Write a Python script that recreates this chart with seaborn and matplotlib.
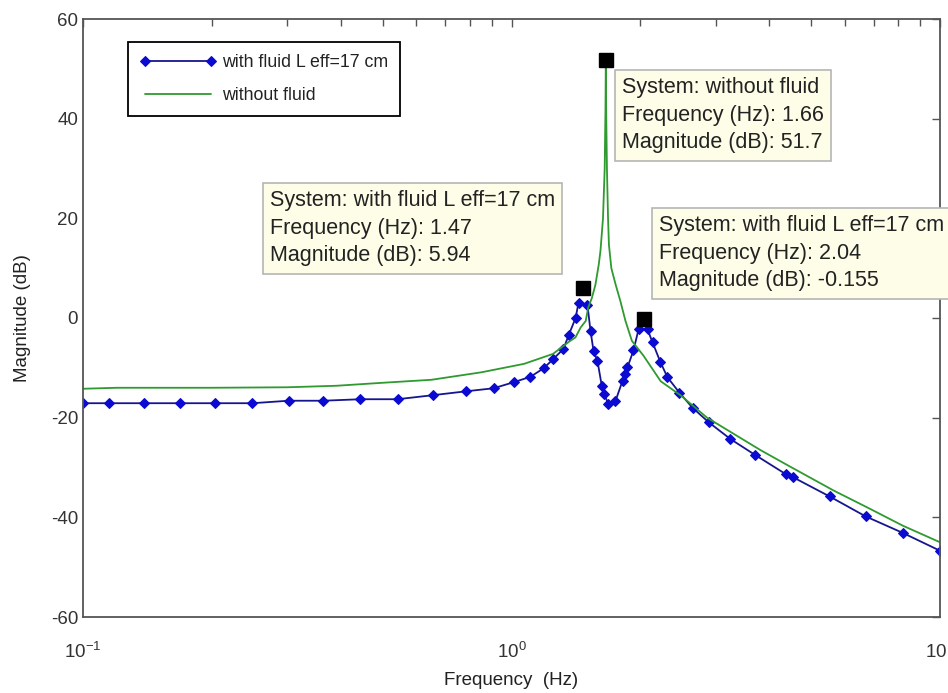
import numpy as np
import pandas as pd
import matplotlib
matplotlib.use("Agg")
import matplotlib.pyplot as plt
import seaborn as sns

# ---- data ----
blue_freq = [0.1, 0.1153, 0.1391, 0.1688, 0.2038, 0.2486, 0.3018, 0.3641, 0.4442, 0.5420,
             0.6541, 0.7852, 0.9079, 1.011, 1.107, 1.188, 1.253, 1.322, 1.359, 1.411,
             1.434, 1.504, 1.529, 1.554, 1.587, 1.625, 1.645, 1.684, 1.748, 1.816,
             1.845, 1.865, 1.926, 1.979, 2.077, 2.134, 2.227, 2.312, 2.466, 2.645,
             2.883, 3.244, 3.691, 4.360, 4.551, 5.523, 6.702, 8.176, 10.0]
blue_db = [-17.1, -17.1, -17.1, -17.1, -17.1, -17.1, -16.6, -16.6, -16.3, -16.3,
           -15.5, -14.7, -14.1, -12.9, -11.8, -10.1, -8.2, -6.2, -3.5, 0.0,
           3.1, 2.6, -2.6, -6.6, -8.6, -13.7, -15.3, -17.3, -16.7, -12.6,
           -11.2, -9.9, -6.5, -2.3, -2.3, -4.9, -8.9, -11.9, -15.0, -18.0,
           -20.9, -24.3, -27.4, -31.3, -32.0, -35.8, -39.8, -43.1, -46.7]

green_freq = [0.1, 0.12, 0.2, 0.3, 0.39, 0.5, 0.65, 0.85, 1.07, 1.25, 1.37, 1.41, 1.45,
              1.49, 1.51, 1.54, 1.57, 1.598, 1.613, 1.635, 1.650, 1.657, 1.660, 1.663,
              1.670, 1.680, 1.688, 1.71, 1.75, 1.795, 1.845, 1.91, 2.03, 2.23, 2.48,
              2.86, 3.81, 4.40, 5.64, 6.76, 8.20, 10.0]
green_db = [-14.2, -14.0, -14.0, -13.9, -13.6, -13.0, -12.4, -10.9, -9.2, -7.2, -4.6, -3.9, -1.9,
            -0.6, 2.1, 4.0, 6.7, 10.7, 13.5, 20.0, 30.0, 42.0, 51.7, 42.0,
            30.0, 20.0, 14.7, 10.0, 6.7, 3.4, -0.6, -4.6, -7.5, -12.7, -15.5,
            -20.0, -26.5, -29.5, -34.6, -38.0, -41.7, -45.0]

series_names = ["with fluid L eff=17 cm", "without fluid"]

tip_freq = [1.47, 1.66, 2.04]
tip_db = [5.94, 51.7, -0.155]
tip_system = ["with fluid L eff=17 cm", "without fluid", "with fluid L eff=17 cm"]

y_ticks = [-60, -40, -20, 0, 20, 40, 60]
x_ticks = [0.1, 1, 10]
x_label = "Frequency  (Hz)"
y_label = "Magnitude (dB)"

# ---- style ----
sns.set_style("white")
plt.rcParams["font.family"] = ["Liberation Sans", "DejaVu Sans"]
plt.rcParams["axes.unicode_minus"] = False
plt.rcParams["mathtext.fontset"] = "custom"
plt.rcParams["mathtext.rm"] = "Liberation Sans"
plt.rcParams["mathtext.it"] = "Liberation Sans"

fig = plt.figure(figsize=(9.48, 6.93), dpi=100)
L, R, T, B = 83, 940, 19, 617
ax = fig.add_axes([L / 948, (693 - B) / 693, (R - L) / 948, (B - T) / 693])

df_blue = pd.DataFrame({"f": blue_freq, "db": blue_db})
df_green = pd.DataFrame({"f": green_freq, "db": green_db})

blue_line = "#15158f"
blue_mark = "#0a0ad2"
green = "#2f9a2f"

sns.lineplot(data=df_blue, x="f", y="db", ax=ax, color=blue_line, lw=1.3,
             marker="D", markersize=5, markerfacecolor=blue_mark, markeredgecolor=blue_mark,
             sort=False, estimator=None, label=series_names[0])
sns.lineplot(data=df_green, x="f", y="db", ax=ax, color=green, lw=1.3,
             sort=False, estimator=None, label=series_names[1])

# datatip markers
df_tip = pd.DataFrame({"f": tip_freq, "db": tip_db})
ax.plot(df_tip["f"], df_tip["db"], ls="none", marker="s", markersize=10,
        color="black", zorder=5, clip_on=False)

ax.set_xscale("log")
ax.set_xlim(0.1, 10)
ax.set_ylim(-60, 60)
ax.set_yticks(y_ticks)
ax.set_xticks(x_ticks)
ax.set_xlabel(x_label, fontsize=13.5, color="#222222", labelpad=7)
ax.set_ylabel(y_label, fontsize=13.5, color="#222222", labelpad=14)

for s in ax.spines.values():
    s.set_color("#555555")
    s.set_linewidth(1.3)
ax.tick_params(which="both", direction="in", top=True, right=True,
               color="#555555", labelcolor="#333333", labelsize=13.5)
ax.tick_params(which="major", length=6, width=1.0)
ax.tick_params(which="minor", length=5, width=1.0)
ax.tick_params(axis="x", which="major", pad=18)
ax.grid(False)

# legend
leg = ax.legend(loc="upper left", bbox_to_anchor=((128 - L) / (R - L), (B - 42) / (B - T)),
                borderaxespad=0, fontsize=12.8, frameon=True, fancybox=False,
                framealpha=1, edgecolor="black", handlelength=4.3, handletextpad=0.35,
                labelspacing=0.92, borderpad=0.66, numpoints=2)
leg.get_frame().set_linewidth(1.3)
for t in leg.get_texts():
    t.set_color("#222222")

# datatip boxes
tip_pos = [(270, 190), (622, 77), (659, 215)]
for (px, py), sysname, f, d in zip(tip_pos, tip_system, tip_freq, tip_db):
    txt = f"System: {sysname}\nFrequency (Hz): {f:g}\nMagnitude (dB): {d:g}"
    ax.text((px - L) / (R - L), (B - py) / (B - T), txt, transform=ax.transAxes,
            ha="left", va="top", fontsize=15.5, color="#222222", linespacing=1.42,
            clip_on=False, zorder=6,
            bbox=dict(boxstyle="square,pad=0.33", facecolor="#fdfde8",
                      edgecolor="#b5b5b5", linewidth=1.2))

fig.savefig("out.png", dpi=100, facecolor="white")
